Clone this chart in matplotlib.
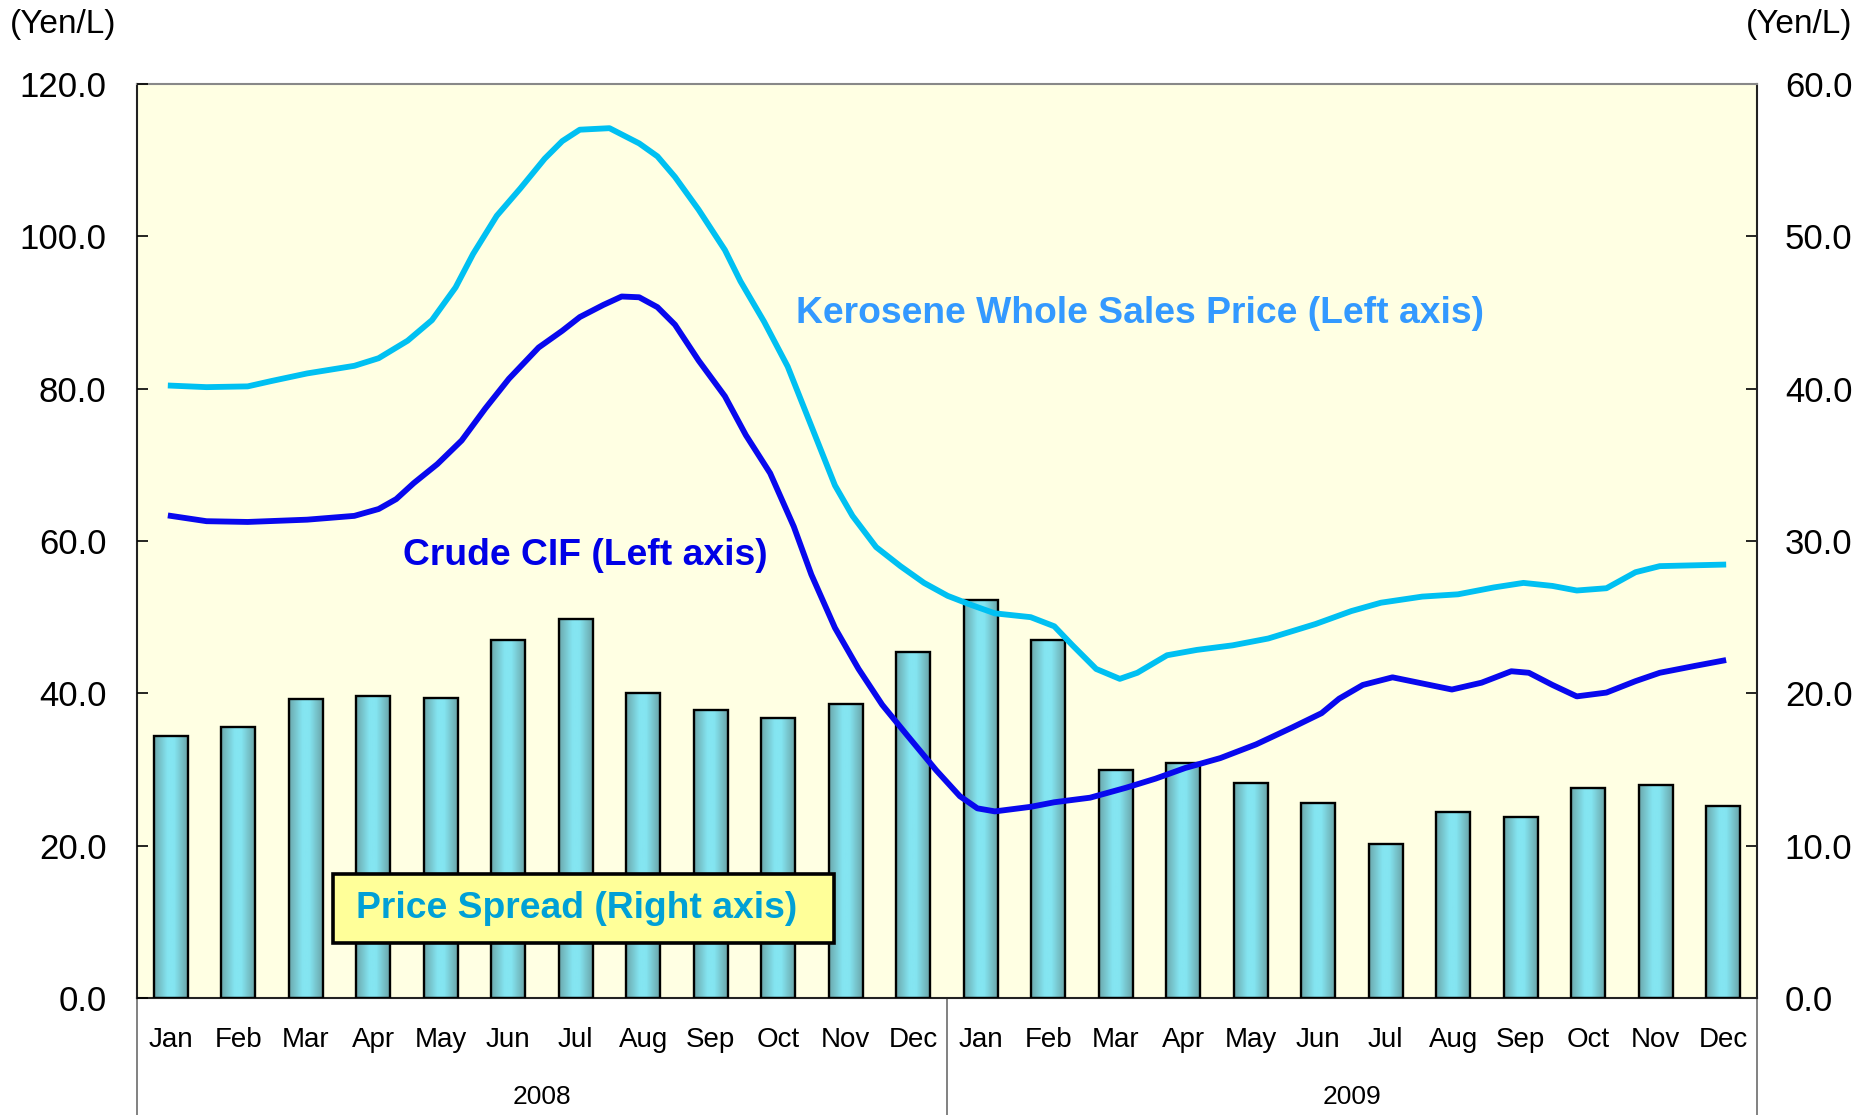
import numpy as np
import matplotlib
matplotlib.use('Agg')
import matplotlib.pyplot as plt
import matplotlib.transforms as mtransforms
from matplotlib.colors import LinearSegmentedColormap
from matplotlib.patches import Rectangle

plt.rcParams['font.family'] = ['Liberation Sans', 'DejaVu Sans']

# data (Yen/L)
months = ['Jan', 'Feb', 'Mar', 'Apr', 'May', 'Jun',
          'Jul', 'Aug', 'Sep', 'Oct', 'Nov', 'Dec'] * 2
years = ['2008', '2009']

# price spread, right axis
spread = [17.2, 17.8, 19.6, 19.8, 19.7, 23.5, 24.9, 20.0, 18.9, 18.4, 19.3, 22.7,
          26.1, 23.5, 15.0, 15.4, 14.1, 12.8, 10.1, 12.2, 11.9, 13.8, 14.0, 12.6]

# kerosene whole sales price, left axis (month index 0 = Jan 2008)
kero_pos = [0.0, 0.53, 1.14, 1.49, 2.02, 2.72, 3.08, 3.51, 3.87, 4.22, 4.48, 4.83,
            5.18, 5.54, 5.80, 6.06, 6.50, 6.94, 7.21, 7.47, 7.82, 8.21, 8.44, 8.79,
            9.14, 9.49, 9.84, 10.10, 10.45, 10.81, 11.16, 11.51, 11.86, 12.21, 12.74,
            13.09, 13.36, 13.71, 14.06, 14.32, 14.76, 15.20, 15.73, 16.26, 16.96,
            17.49, 17.93, 18.54, 19.07, 19.60, 20.04, 20.47, 20.83, 21.27, 21.70,
            22.06, 23.0]
kero_val = [80.4, 80.2, 80.3, 81.0, 82.0, 83.0, 84.0, 86.3, 89.0, 93.3, 97.7, 102.7,
            106.3, 110.2, 112.5, 114.0, 114.2, 112.2, 110.5, 107.8, 103.5, 98.2, 94.1,
            88.8, 82.9, 75.1, 67.3, 63.3, 59.2, 56.7, 54.5, 52.8, 51.6, 50.5, 50.0,
            48.8, 46.3, 43.2, 41.9, 42.7, 45.0, 45.7, 46.3, 47.2, 49.1, 50.8, 51.9,
            52.7, 53.0, 53.9, 54.5, 54.1, 53.5, 53.8, 55.9, 56.7, 56.9]

# crude CIF, left axis
crude_pos = [0.0, 0.53, 1.14, 2.02, 2.72, 3.08, 3.34, 3.60, 3.95, 4.31, 4.66, 5.01,
             5.45, 5.80, 6.06, 6.41, 6.68, 6.94, 7.21, 7.47, 7.82, 8.21, 8.52, 8.88,
             9.23, 9.49, 9.84, 10.19, 10.54, 10.90, 11.34, 11.69, 11.95, 12.21, 12.74,
             13.09, 13.62, 14.15, 14.59, 15.03, 15.55, 16.08, 16.61, 17.05, 17.31,
             17.66, 18.10, 18.54, 18.98, 19.42, 19.86, 20.12, 20.47, 20.83, 21.27,
             21.70, 22.06, 22.58, 23.0]
crude_val = [63.3, 62.6, 62.5, 62.8, 63.3, 64.2, 65.5, 67.6, 70.1, 73.2, 77.4, 81.3,
             85.4, 87.6, 89.4, 91.0, 92.1, 92.0, 90.7, 88.4, 83.7, 79.0, 73.9, 68.9,
             61.9, 55.6, 48.6, 43.2, 38.5, 34.6, 29.9, 26.5, 24.9, 24.5, 25.1, 25.7,
             26.3, 27.6, 28.8, 30.2, 31.5, 33.3, 35.5, 37.4, 39.3, 41.1, 42.1, 41.3,
             40.5, 41.4, 42.9, 42.7, 41.1, 39.6, 40.1, 41.6, 42.7, 43.6, 44.3]

fig = plt.figure(figsize=(18.6, 11.15), dpi=100)
ax = fig.add_axes([137 / 1860, 117 / 1115, 1620 / 1860, 914 / 1115])
ax.set_facecolor('#FFFFE3')

x = np.arange(len(spread))
bars = ax.bar(x, spread, width=0.5, color='none', edgecolor='black',
              linewidth=1.7, zorder=3)

# shaded bar fill
cmap = LinearSegmentedColormap.from_list(
    'bar', [(0, '#6CA9AD'), (0.4, '#84E5F1'), (0.6, '#84E5F1'), (1, '#6BA6AA')])
grad = np.linspace(0, 1, 64).reshape(1, -1)
for b in bars:
    im = ax.imshow(grad, cmap=cmap, aspect='auto', zorder=2,
                   extent=[b.get_x(), b.get_x() + b.get_width(), 0, b.get_height()])
    im.set_clip_path(b)

ax.set_xlim(-0.5, 23.5)
ax.set_ylim(0, 60)

ax2 = ax.twinx()
ax2.set_ylim(0, 120)
ax2.plot(kero_pos, kero_val, color='#00C0F2', lw=4.2, solid_joinstyle='round', zorder=4)
ax2.plot(crude_pos, crude_val, color='#0808EE', lw=4.2, solid_joinstyle='round', zorder=4)

# right axis for the bars, left axis for the lines
ax.yaxis.tick_right()
ax2.yaxis.tick_left()
ax.set_yticks(np.arange(0, 61, 10))
ax.set_yticklabels(['%.1f' % v for v in np.arange(0, 61, 10)])
ax2.set_yticks(np.arange(0, 121, 20))
ax2.set_yticklabels(['%.1f' % v for v in np.arange(0, 121, 20)])
ax.tick_params(axis='y', direction='in', length=8, width=1.2, labelsize=25, pad=20)
ax2.tick_params(axis='y', direction='in', length=8, width=1.2, labelsize=25, pad=22)

ax.set_xticks(x)
ax.set_xticklabels(months)
ax.tick_params(axis='x', length=0, labelsize=20, pad=21)

for s in ax2.spines.values():
    s.set_visible(False)
for side in ['left', 'right', 'bottom']:
    ax.spines[side].set_color('#222222')
    ax.spines[side].set_linewidth(1.5)
ax.spines['top'].set_color('#888888')
ax.spines['top'].set_linewidth(1.5)

# year separators and labels
trans = mtransforms.blended_transform_factory(ax.transData, ax.transAxes)
for xv in [-0.5, 11.5, 23.5]:
    ax.plot([xv, xv], [0, -0.14], transform=trans, color='#777777', lw=1.3,
            clip_on=False)
for i, yr in enumerate(years):
    ax.text(5.5 + 12 * i, -0.108, yr, transform=trans, ha='center', va='center',
            fontsize=19)

fig.text(10 / 1860, 1 - 24 / 1115, '(Yen/L)', fontsize=24, ha='left', va='center')
fig.text(1852 / 1860, 1 - 24 / 1115, '(Yen/L)', fontsize=24, ha='right', va='center')

# series labels
ax2.text(0.407, 0.749, 'Kerosene Whole Sales Price (Left axis)', transform=ax2.transAxes,
         fontsize=26.8, fontweight='bold', color='#3399FF', ha='left', va='center')
ax2.text(0.164, 0.484, 'Crude CIF (Left axis)', transform=ax2.transAxes,
         fontsize=26.8, fontweight='bold', color='#0000E6', ha='left', va='center')
ax2.add_patch(Rectangle((0.121, 0.060), 0.309, 0.076, transform=ax2.transAxes,
                        facecolor='#FFFF99', edgecolor='black', lw=2.6, zorder=5))
ax2.text(0.135, 0.098, 'Price Spread (Right axis)', transform=ax2.transAxes,
         fontsize=26.8, fontweight='bold', color='#00A0D6', ha='left', va='center',
         zorder=6)

fig.savefig('out.png', dpi=100)
